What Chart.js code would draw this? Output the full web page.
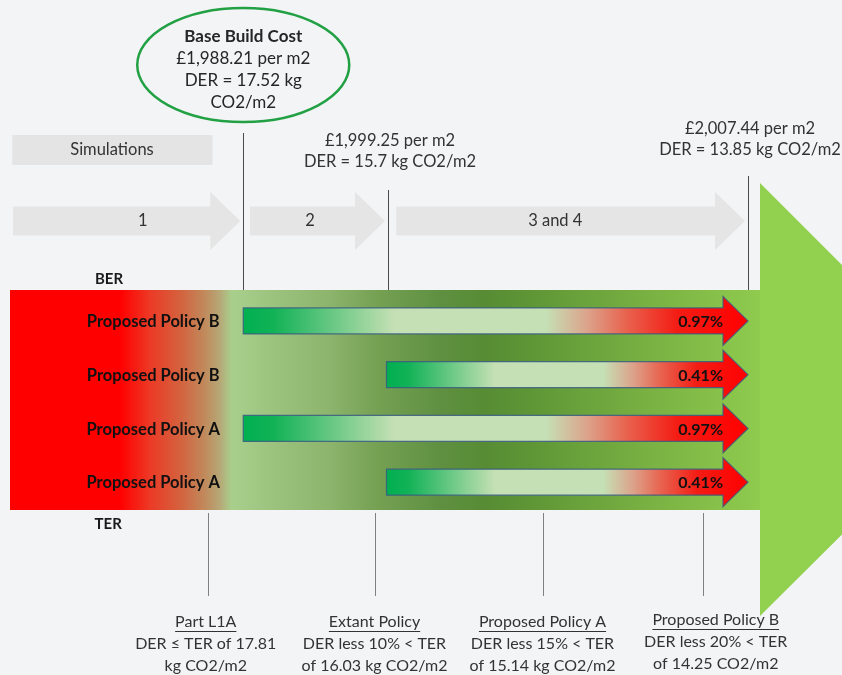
<!DOCTYPE html>
<html>
<head>
<meta charset="utf-8">
<script src="https://cdn.jsdelivr.net/npm/chart.js@4"></script>
<style>
  html, body { margin: 0; padding: 0; background: #f3f4f6; }
  canvas { display: block; }
</style>
</head>
<body>
<canvas id="c" width="842" height="675"></canvas>
<script>
// Scenario rows, top to bottom
const rowLabels = ['Proposed Policy B', 'Proposed Policy B', 'Proposed Policy A', 'Proposed Policy A'];
// Build cost uplift of each scenario, %
const costUplift = [0.97, 0.41, 0.97, 0.41];
// Where each scenario arrow starts and ends along the route (0-100)
const arrowStart = [31.1, 50.2, 31.1, 50.2];
const arrowEnd = [98.4, 98.4, 98.4, 98.4];

// Simulation stages shown above the band
const stageLabels = ['1', '2', '3 and 4'];
const stageFrom = [0.4, 32.0, 51.5];
const stageTo = [30.7, 50.0, 98.0];
const stageLabelPos = [17.7, 40.0, 72.7];

// Cost checkpoints (position along the route and their captions)
const checkpointPos = [31.1, 50.4, 98.4];
const checkpointText = [
  ['Base Build Cost', '£1,988.21 per m2', 'DER = 17.52 kg', 'CO2/m2'],
  ['£1,999.25 per m2', 'DER = 15.7 kg CO2/m2'],
  ['£2,007.44 per m2', 'DER = 13.85 kg CO2/m2']
];

// Emission targets below the band
const policyPos = [26.4, 48.7, 71.1, 92.4];
const policyTextPos = [26.1, 48.6, 71.0, 94.1];
const policyTitles = ['Part L1A', 'Extant Policy', 'Proposed Policy A', 'Proposed Policy B'];
const policyLines = [
  ['DER \u2264 TER of 17.81', 'kg CO2/m2'],
  ['DER less 10% < TER', 'of 16.03 kg CO2/m2'],
  ['DER less 15% < TER', 'of 15.14 kg CO2/m2'],
  ['DER less 20% < TER', 'of 14.25 CO2/m2']
];

const FONT = 'Lato, "Open Sans", sans-serif';

function arrowPath(ctx, x0, x1, yc, shaftHalf, headHalf, headLen) {
  ctx.beginPath();
  ctx.moveTo(x0, yc - shaftHalf);
  ctx.lineTo(x1 - headLen, yc - shaftHalf);
  ctx.lineTo(x1 - headLen, yc - headHalf);
  ctx.lineTo(x1, yc);
  ctx.lineTo(x1 - headLen, yc + headHalf);
  ctx.lineTo(x1 - headLen, yc + shaftHalf);
  ctx.lineTo(x0, yc + shaftHalf);
  ctx.closePath();
}

function text(ctx, str, x, y, size, bold, color, align) {
  ctx.font = (bold ? 'bold ' : '') + size + 'px ' + FONT;
  ctx.fillStyle = color;
  ctx.textAlign = align || 'center';
  ctx.textBaseline = 'middle';
  ctx.fillText(str, x, y);
}

const backdrop = {
  id: 'backdrop',
  beforeDatasetsDraw(chart) {
    const ctx = chart.ctx;
    const area = chart.chartArea;
    const xs = chart.scales.x;
    const px = v => xs.getPixelForValue(v);
    ctx.save();

    // page background
    ctx.fillStyle = '#f3f4f6';
    ctx.fillRect(0, 0, chart.width, chart.height);

    // main band: red to green
    const bandTop = area.top - 4, bandBottom = area.bottom + 1;
    const g = ctx.createLinearGradient(area.left, 0, area.right, 0);
    [[0, '#ff0000'], [0.147, '#ff0000'], [0.187, '#ec3a26'], [0.227, '#d4623e'],
     [0.26, '#c08a5c'], [0.28, '#b6a877'], [0.296, '#a8d08c'], [0.347, '#9dc47f'],
     [0.427, '#8cb46c'], [0.493, '#74a052'], [0.573, '#5f9041'], [0.633, '#578c34'],
     [0.693, '#5e9636'], [0.787, '#6ea63e'], [0.893, '#80b846'], [1, '#8ecb4e']]
      .forEach(s => g.addColorStop(s[0], s[1]));
    ctx.fillStyle = g;
    ctx.fillRect(area.left, bandTop, area.right - area.left, bandBottom - bandTop);

    // arrowhead of the band
    const midY = (bandTop + bandBottom) / 2;
    ctx.fillStyle = '#92d050';
    ctx.beginPath();
    ctx.moveTo(area.right, midY - 217);
    ctx.lineTo(area.right + 217, midY);
    ctx.lineTo(area.right, midY + 216);
    ctx.closePath();
    ctx.fill();

    // "Simulations" caption box
    ctx.fillStyle = '#e4e4e4';
    ctx.fillRect(px(0.3), 135, px(27) - px(0.3), 30);
    text(ctx, 'Simulations', px(13.6), 150, 16.5, false, '#333333');

    // stage arrows
    stageLabels.forEach((lab, i) => {
      ctx.fillStyle = '#e5e5e5';
      arrowPath(ctx, px(stageFrom[i]), px(stageTo[i]), 221, 14.5, 29, 30);
      ctx.fill();
      text(ctx, lab, px(stageLabelPos[i]), 221, 16.5, false, '#333333');
    });

    // checkpoint marker lines
    const lineTops = [133, 190, 176];
    ctx.strokeStyle = '#4a4a4a';
    ctx.lineWidth = 1;
    checkpointPos.forEach((p, i) => {
      const x = Math.round(px(p)) + 0.5;
      ctx.beginPath();
      ctx.moveTo(x, lineTops[i]);
      ctx.lineTo(x, bandTop);
      ctx.stroke();
    });

    // checkpoint captions
    const c0 = px(checkpointPos[0]);
    ctx.strokeStyle = '#22a044';
    ctx.lineWidth = 2.5;
    ctx.beginPath();
    ctx.ellipse(c0, 65, 106, 57, 0, 0, Math.PI * 2);
    ctx.stroke();
    checkpointText[0].forEach((s, j) => text(ctx, s, c0, 37 + j * 22, 17, j === 0, '#262626'));
    const capTops = [141, 129];
    [1, 2].forEach((k, n) => {
      checkpointText[k].forEach((s, j) =>
        text(ctx, s, px(checkpointPos[k]) + 2, capTops[n] + j * 21, 16.5, false, '#333333'));
    });

    // BER / TER captions
    text(ctx, 'BER', px(13.2), 279, 15, true, '#1a1a1a');
    text(ctx, 'TER', px(13.1), 524, 15, true, '#1a1a1a');

    // policy target lines and captions
    ctx.strokeStyle = '#808080';
    ctx.lineWidth = 1;
    policyPos.forEach((p, i) => {
      const x = Math.round(px(p)) + 0.5;
      ctx.beginPath();
      ctx.moveTo(x, bandBottom + 3);
      ctx.lineTo(x, 596);
      ctx.stroke();
      const tx = px(policyTextPos[i]);
      const y0 = i === 3 ? 620 : 622;
      text(ctx, policyTitles[i], tx, y0, 16, false, '#333333');
      ctx.font = '16px ' + FONT;
      const w = ctx.measureText(policyTitles[i]).width;
      ctx.fillStyle = '#333333';
      ctx.fillRect(tx - w / 2, y0 + 9, w, 1);
      policyLines[i].forEach((s, j) => text(ctx, s, tx, y0 + 22 + j * 22, 16, false, '#333333'));
    });

    ctx.restore();
  },
  afterDatasetsDraw(chart) {
    const ctx = chart.ctx;
    const xs = chart.scales.x;
    const meta = chart.getDatasetMeta(0);
    ctx.save();
    meta.data.forEach((bar, i) => {
      const x0 = bar.base, x1 = bar.x, yc = bar.y, half = bar.height / 2;
      const g = ctx.createLinearGradient(x0, 0, x1, 0);
      [[0, '#00b050'], [0.06, '#12b257'], [0.3, '#c5e0b4'], [0.6, '#c5e0b4'],
       [0.68, '#dca48c'], [0.76, '#e8624e'], [0.86, '#f41c14'], [1, '#ff0000']]
        .forEach(s => g.addColorStop(s[0], s[1]));
      arrowPath(ctx, x0, x1, yc, half, 24.5, 25);
      ctx.fillStyle = g;
      ctx.fill();
      ctx.strokeStyle = 'rgba(58,92,130,0.85)';
      ctx.lineWidth = 1.2;
      ctx.stroke();
      text(ctx, costUplift[i].toFixed(2) + '%', x1 - 25, yc + 1, 16, true, '#111111', 'right');
      text(ctx, rowLabels[i], xs.getPixelForValue(19.1), yc + 1, 16.5, true, '#111111');
    });
    ctx.restore();
  }
};

new Chart(document.getElementById('c'), {
  type: 'bar',
  data: {
    labels: rowLabels,
    datasets: [{
      data: arrowStart.map((s, i) => [s, arrowEnd[i]]),
      backgroundColor: 'rgba(0,0,0,0)',
      borderWidth: 0,
      barThickness: 26
    }]
  },
  options: {
    indexAxis: 'y',
    responsive: false,
    animation: false,
    devicePixelRatio: 1,
    layout: { padding: { left: 10, right: 82, top: 294, bottom: 166 } },
    scales: {
      x: { type: 'linear', min: 0, max: 100, display: false },
      y: { display: false }
    },
    plugins: {
      legend: { display: false },
      tooltip: { enabled: false }
    }
  },
  plugins: [backdrop]
});
</script>
</body>
</html>
